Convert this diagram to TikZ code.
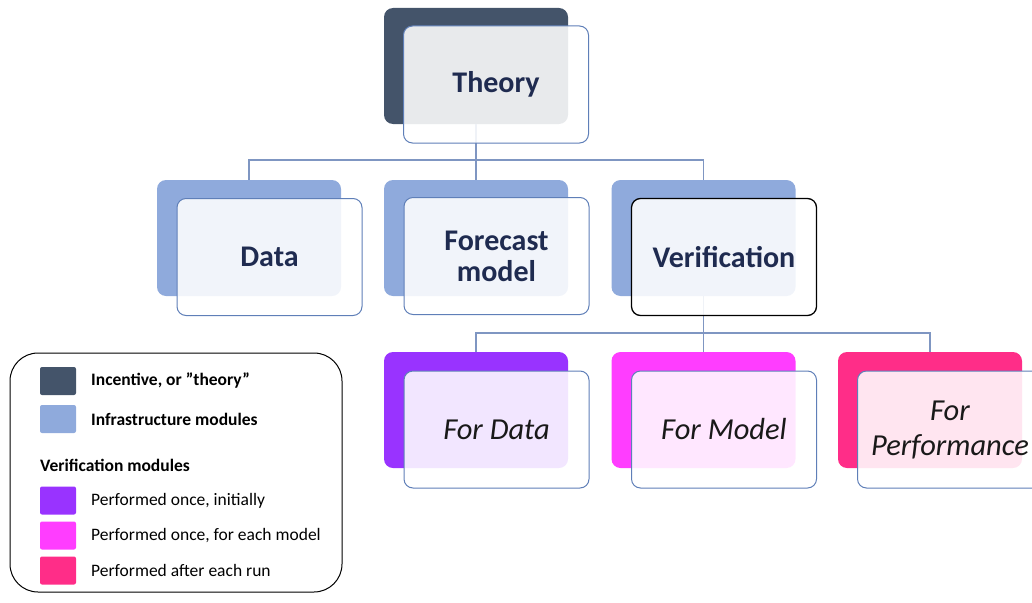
\documentclass[tikz,border=0pt]{standalone}
\usepackage{fontspec}
\setmainfont{Carlito}
\definecolor{theorycol}{HTML}{44546A}
\definecolor{infracol}{HTML}{8FAADC}
\definecolor{oncecol}{HTML}{9933FF}
\definecolor{modelcol}{HTML}{FF3DFF}
\definecolor{runcol}{HTML}{FF2D88}
\definecolor{edgecol}{HTML}{5F7FB8}
\definecolor{linkcol}{HTML}{7F96C2}
\definecolor{titlecol}{HTML}{1F2B50}
\tikzset{
  backbox/.style={rounded corners=9pt, minimum width=184pt, minimum height=116pt, inner sep=0pt, fill=#1},
  frontbox/.style={rounded corners=9pt, minimum width=185pt, minimum height=117pt, inner sep=0pt,
    draw=edgecol, line width=1pt, fill=white, fill opacity=0.88, text opacity=1, align=center},
  title/.style={font=\bfseries\fontsize{30}{31}\selectfont, text=titlecol},
  vlabel/.style={font=\itshape\fontsize{30.5}{35}\selectfont, text=black!90},
  link/.style={draw=linkcol, line width=1.4pt},
  swatch/.style={rounded corners=2pt, minimum width=36pt, minimum height=28pt, inner sep=0pt, fill=#1},
  legtext/.style={font=\fontsize{17.5}{19}\selectfont, anchor=west, inner sep=0pt},
  legbold/.style={legtext, font=\bfseries\fontsize{17.5}{19}\selectfont},
}
\begin{document}
\begin{tikzpicture}[x=1pt,y=-1pt]
\useasboundingbox (0,0) rectangle (1032,602);
\clip (0,0) rectangle (1032,602);

% junction points of the tree
\coordinate (j1) at (476,160);
\coordinate (j2) at (703.5,333);

% back boxes
\node[backbox=theorycol] (tb) at (476,66) {};
\node[backbox=infracol] (db) at (249,238) {};
\node[backbox=infracol] (fb) at (476,238) {};
\node[backbox=infracol] (vb) at (703.5,238) {};
\node[backbox=oncecol] (vdb) at (476,410) {};
\node[backbox=modelcol] (vmb) at (703.5,410) {};
\node[backbox=runcol] (vpb) at (930,410) {};

% connectors
\draw[link] (tb.south) -- (j1) -| (db.north);
\draw[link] (j1) -| (fb.north);
\draw[link] (j1) -| (vb.north);
\draw[link] (vb.south) -- (j2) -| (vdb.north);
\draw[link] (j2) -| (vmb.north);
\draw[link] (j2) -| (vpb.north);

% front boxes with labels
\node[frontbox, title] (t) at (496,84.5) {Theory};
\node[frontbox, title] (d) at (269.5,257) {Data};
\node[frontbox, title] (f) at (496.5,256) {Forecast\\model};
\node[frontbox, title, draw=black, line width=1.3pt] (v) at (724,257) {Verification};
\node[frontbox, vlabel] (vd) at (496.5,429.5) {For Data};
\node[frontbox, vlabel] (vm) at (724,429.5) {For Model};
\node[frontbox, vlabel] (vp) at (950,429.5) {For\\Performance};

% legend
\node[draw=black, line width=1pt, rounded corners=28pt, minimum width=332pt, minimum height=239pt] (leg) at (176,472.5) {};
\node[swatch=theorycol] (s1) at (58,381) {};
\node[swatch=infracol] (s2) at (58,419) {};
\node[swatch=oncecol] (s3) at (58,500.5) {};
\node[swatch=modelcol] (s4) at (58,535.5) {};
\node[swatch=runcol] (s5) at (58,570.5) {};
\node[legbold] (l1) at (91,381) {Incentive, or ”theory”};
\node[legbold] (l2) at (91,419) {Infrastructure modules};
\node[legbold] (lh) at (40,465) {Verification modules};
\node[legtext] (l3) at (91,500.5) {Performed once, initially};
\node[legtext] (l4) at (91,535.5) {Performed once, for each model};
\node[legtext] (l5) at (91,570.5) {Performed after each run};
\end{tikzpicture}
\end{document}
